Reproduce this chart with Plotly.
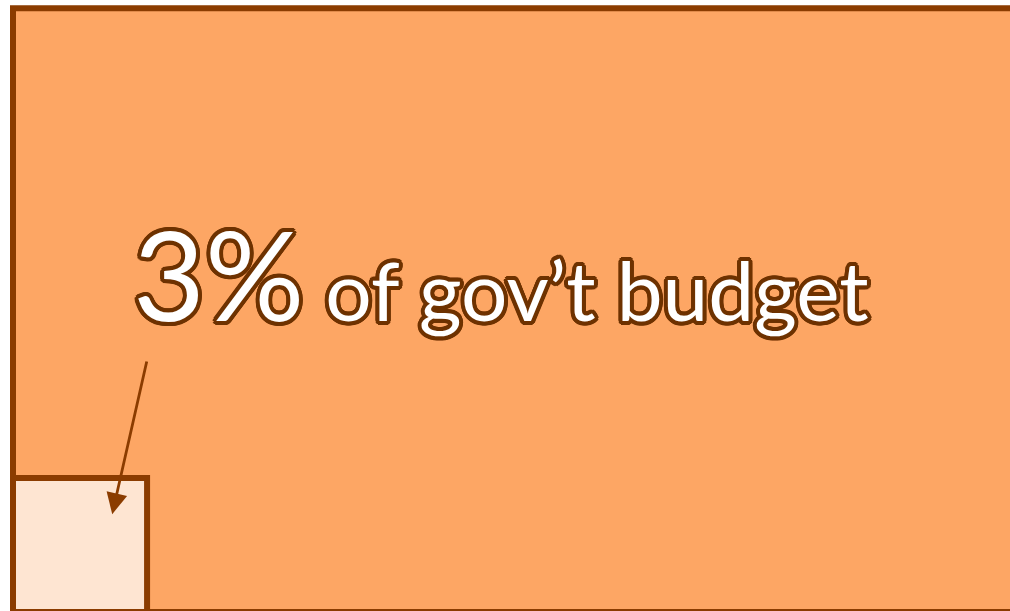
import math
import plotly.graph_objects as go

# values
parts = ["government budget", "this share"]
pct = [100, 3]
label_big = "3%"
label_rest = "of gov’t budget"

# the whole budget box runs off the right and bottom of the view
budget_box = [13.5, 7.8]  # width, height in square-root units

FILL_BIG = "#FDA664"
FILL_SMALL = "#FEE5D2"
EDGE = "#8B3C00"
STROKE = "#6E3200"

side = math.sqrt(pct[1])

fig = go.Figure()

fig.add_shape(type="rect", x0=0, y0=0, x1=budget_box[0], y1=budget_box[1],
              fillcolor=FILL_BIG, line=dict(color=EDGE, width=6), layer="below")
fig.add_shape(type="rect", x0=0, y0=0, x1=side, y1=side,
              fillcolor=FILL_SMALL, line=dict(color=EDGE, width=6), layer="below")

# arrow from the label down into the small square
fig.add_annotation(x=side * 0.74, y=side * 0.73, ax=side, ay=side * 1.88,
                   xref="x", yref="y", axref="x", ayref="y",
                   text="", showarrow=True, arrowhead=2, arrowsize=1.5,
                   arrowwidth=2.8, arrowcolor=EDGE)

# fake a text stroke with a ring of shadows
ring = [(round(4 * math.cos(a * math.pi / 8), 1), round(4 * math.sin(a * math.pi / 8), 1))
        for a in range(16)]
outline = ", ".join(f"{dx}px {dy}px 0 {STROKE}" for dx, dy in ring)
fig.add_annotation(
    x=1.53, y=3.40, xref="x", yref="y",
    xanchor="left", yanchor="bottom", showarrow=False,
    text=f"<span style='font-size:124px'>{label_big}</span> {label_rest}",
    font=dict(family="Lato", size=82, color="white", shadow=outline),
)

fig.update_layout(
    width=1010, height=611,
    margin=dict(l=0, r=0, t=0, b=0),
    paper_bgcolor="white", plot_bgcolor="white",
    showlegend=False,
    xaxis=dict(range=[-0.168, 12.88], visible=False, fixedrange=True),
    yaxis=dict(range=[0.013, 7.907], visible=False, fixedrange=True),
)

fig.write_html("out.html", config={"displayModeBar": False},
               post_script="document.body.style.margin='0';")
